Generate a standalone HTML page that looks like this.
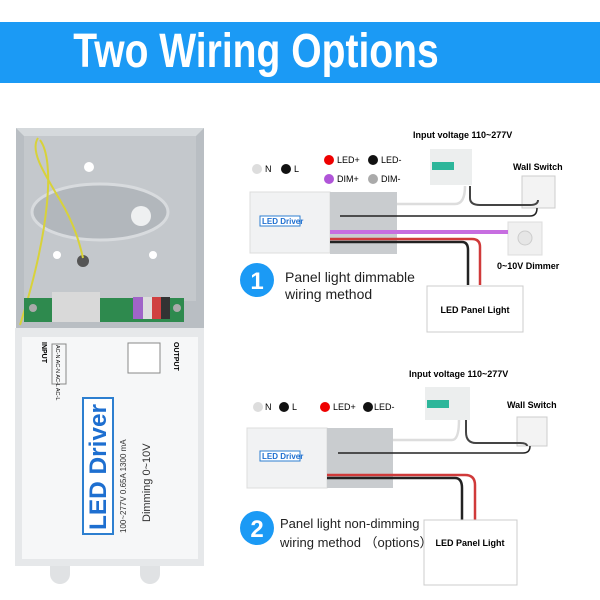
<!DOCTYPE html>
<html><head><style>
body{margin:0;background:#fff;}
svg{display:block;font-family:"Liberation Sans",sans-serif;}
</style></head><body>
<svg width="600" height="600" viewBox="0 0 600 600">
<rect x="0" y="22" width="600" height="61" fill="#1b9af5"/>
<text x="0" y="0" text-anchor="middle" font-size="42" font-weight="bold" fill="#fff" transform="translate(256 67) scale(0.93 1.15)">Two Wiring Options</text>

<!-- left metal box -->
<rect x="16" y="128" width="188" height="202" fill="#b9bec3"/>
<polygon points="16,128 204,128 196,136 24,136" fill="#d5d9dc"/>
<rect x="24" y="136" width="172" height="165" fill="#c4c8cc"/>
<ellipse cx="100" cy="212" rx="68" ry="28" fill="#b2b7bc" stroke="#d8dbde" stroke-width="3"/>
<circle cx="141" cy="216" r="10" fill="#eef0f1"/>
<circle cx="89" cy="167" r="5" fill="#fff"/><circle cx="57" cy="255" r="4" fill="#fff"/><circle cx="153" cy="255" r="4" fill="#fff"/>
<circle cx="83" cy="261" r="6" fill="#555"/>
<path d="M38,138 C30,150 42,170 60,200 C75,225 80,245 83,258 M40,140 C55,160 50,230 20,325" stroke="#d8d23a" stroke-width="2" fill="none"/>
<rect x="24" y="298" width="160" height="24" fill="#2e8a4e"/>
<rect x="52" y="292" width="48" height="30" fill="#d9d9d9"/>
<rect x="133" y="297" width="10" height="22" fill="#a064c8"/><rect x="143" y="297" width="9" height="22" fill="#ddd"/><rect x="152" y="297" width="9" height="22" fill="#d04040"/><rect x="161" y="297" width="9" height="22" fill="#333"/>
<circle cx="33" cy="308" r="4" fill="#aaa"/><circle cx="177" cy="308" r="4" fill="#aaa"/>
<!-- cover -->
<rect x="15" y="328" width="189" height="238" fill="#e6e8ea"/>
<rect x="22" y="337" width="176" height="222" fill="#f6f7f8"/>
<path d="M50,566 h20 v8 a6,6 0 0 1 -20,0z M140,566 h20 v8 a6,6 0 0 1 -20,0z" fill="#e0e2e4"/>
<rect x="52" y="344" width="14" height="40" fill="none" stroke="#888"/>
<text transform="translate(42 342) rotate(90)" font-size="7" font-weight="bold">INPUT</text>
<text transform="translate(56 345) rotate(90)" font-size="5.5">AC-N AC-N AC-L AC-L</text>
<rect x="128" y="343" width="32" height="30" fill="#fff" stroke="#888"/>
<text transform="translate(174 342) rotate(90)" font-size="7" font-weight="bold">OUTPUT</text>
<rect x="83" y="398" width="30" height="136" fill="#fff" stroke="#2d7fd0" stroke-width="2"/>
<text transform="translate(106 530) rotate(-90)" font-size="24" font-weight="bold" fill="#1e6fd0" textLength="126" lengthAdjust="spacingAndGlyphs">LED Driver</text>
<text transform="translate(126 533) rotate(-90)" font-size="8" fill="#333">100~277V  0.65A  1300 mA</text>
<text transform="translate(150 522) rotate(-90)" font-size="11" fill="#333">Dimming 0~10V</text>

<!-- panel 1 -->
<g font-size="9" font-weight="bold">
<text x="413" y="138">Input voltage 110~277V</text>
<text x="513" y="170">Wall Switch</text>
<text x="497" y="269">0~10V Dimmer</text>
</g>
<rect x="430" y="149" width="42" height="36" fill="#eceeee"/><rect x="432" y="162" width="22" height="8" fill="#2db69a"/>
<rect x="522" y="176" width="33" height="32" fill="#f3f3f3" stroke="#ccc"/>
<rect x="508" y="222" width="34" height="33" fill="#f0f0f0" stroke="#ddd"/><circle cx="525" cy="238" r="7" fill="#e6e6e6" stroke="#ccc"/>
<g font-size="9"><circle cx="257" cy="169" r="5" fill="#ddd"/><text x="265" y="172">N</text>
<circle cx="286" cy="169" r="5" fill="#111"/><text x="294" y="172">L</text>
<circle cx="329" cy="160" r="5" fill="#e00"/><text x="337" y="163">LED+</text>
<circle cx="373" cy="160" r="5" fill="#111"/><text x="381" y="163">LED-</text>
<circle cx="329" cy="179" r="5" fill="#b055d8"/><text x="337" y="182">DIM+</text>
<circle cx="373" cy="179" r="5" fill="#aaa"/><text x="381" y="182">DIM-</text></g>
<rect x="250" y="192" width="80" height="61" fill="#f1f2f3" stroke="#ddd"/>
<rect x="330" y="192" width="67" height="62" fill="#c9cccf"/>
<rect x="260" y="216" width="40" height="10" fill="#fff" stroke="#2d7fd0"/><text x="262" y="224" font-size="8" font-weight="bold" fill="#1e6fd0">LED Driver</text>
<path d="M397,204 H455 Q465,204 465,186" stroke="#ddd" stroke-width="2.5" fill="none"/>
<path d="M470,186 V198 Q470,205 480,205 H530 Q538,205 538,200" stroke="#444" stroke-width="2" fill="none"/>
<path d="M340,216 H530 Q537,216 537,208" stroke="#222" stroke-width="1.5" fill="none"/>
<rect x="330" y="230" width="178" height="4" fill="#c76ee0"/>
<path d="M330,239 H472 Q480,239 480,247 V285" stroke="#d03a3a" stroke-width="2.5" fill="none"/>
<path d="M330,242 H462 Q468,242 468,250 V285" stroke="#222" stroke-width="2.5" fill="none"/>
<rect x="427" y="286" width="96" height="46" fill="#fff" stroke="#ccc"/>
<text x="475" y="313" font-size="9" font-weight="bold" text-anchor="middle">LED Panel Light</text>
<circle cx="257" cy="280" r="17" fill="#1b9af5"/><text x="257" y="289" font-size="24" font-weight="bold" fill="#fff" text-anchor="middle">1</text>
<text x="285" y="282" font-size="14" fill="#222">Panel light dimmable</text>
<text x="285" y="299" font-size="14" fill="#222">wiring method</text>

<!-- panel 2 -->
<g font-size="9" font-weight="bold">
<text x="409" y="377">Input voltage 110~277V</text>
<text x="507" y="408">Wall Switch</text>
</g>
<rect x="425" y="387" width="45" height="33" fill="#eceeee"/><rect x="427" y="400" width="22" height="8" fill="#2db69a"/>
<rect x="517" y="417" width="30" height="29" fill="#f3f3f3" stroke="#ccc"/>
<g font-size="9"><circle cx="258" cy="407" r="5" fill="#ddd"/><text x="265" y="410">N</text>
<circle cx="284" cy="407" r="5" fill="#111"/><text x="292" y="410">L</text>
<circle cx="325" cy="407" r="5" fill="#e00"/><text x="333" y="410">LED+</text>
<circle cx="368" cy="407" r="5" fill="#111"/><text x="374" y="410">LED-</text></g>
<rect x="247" y="428" width="80" height="60" fill="#f1f2f3" stroke="#ddd"/>
<rect x="327" y="428" width="66" height="60" fill="#c9cccf"/>
<rect x="260" y="451" width="40" height="10" fill="#fff" stroke="#2d7fd0"/><text x="262" y="459" font-size="8" font-weight="bold" fill="#1e6fd0">LED Driver</text>
<path d="M393,440 H452 Q459,440 459,420" stroke="#ddd" stroke-width="2.5" fill="none"/>
<path d="M466,420 V432 Q466,443 476,443 H520 Q527,443 527,446" stroke="#444" stroke-width="2" fill="none"/>
<path d="M338,453 H523 Q530,453 530,446" stroke="#222" stroke-width="1.5" fill="none"/>
<path d="M327,475 H465 Q475,475 475,485 V520" stroke="#d03a3a" stroke-width="2.5" fill="none"/>
<path d="M327,478 H455 Q462,478 462,488 V520" stroke="#222" stroke-width="2.5" fill="none"/>
<rect x="424" y="520" width="93" height="65" fill="#fff" stroke="#ccc"/>
<text x="470" y="546" font-size="9" font-weight="bold" text-anchor="middle">LED Panel Light</text>
<circle cx="257" cy="528" r="17" fill="#1b9af5"/><text x="257" y="537" font-size="24" font-weight="bold" fill="#fff" text-anchor="middle">2</text>
<text x="280" y="528" font-size="13" fill="#222">Panel light non-dimming</text>
<text x="280" y="547" font-size="13" fill="#222">wiring method （options）</text>
</svg>
</body></html>
